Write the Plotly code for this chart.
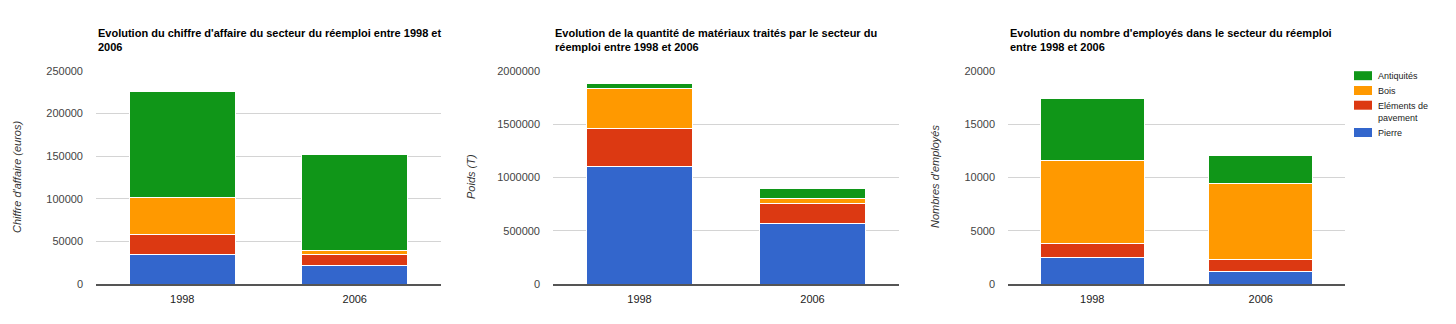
import plotly.graph_objects as go

W, H = 1456, 324

years = ["1998", "2006"]
series = ["Pierre", "Eléments de pavement", "Bois", "Antiquités"]
legend_labels = ["Pierre", "Eléments de<br>pavement", "Bois", "Antiquités"]
colors = ["#3366cc", "#dc3912", "#ff9900", "#109618"]

# Chart 1: chiffre d'affaire (euros)
ca_pierre = [35000, 21500]
ca_elements = [23000, 13400]
ca_bois = [44000, 5000]
ca_antiquites = [124000, 111600]

# Chart 2: poids (T)
poids_pierre = [1100000, 571000]
poids_elements = [357000, 186000]
poids_bois = [377000, 43000]
poids_antiquites = [50000, 98000]

# Chart 3: nombre d'employés
emp_pierre = [2450, 1190]
emp_elements = [1320, 1130]
emp_bois = [7820, 7130]
emp_antiquites = [5800, 2640]

titles = [
    "Evolution du chiffre d'affaire du secteur du réemploi entre 1998 et<br>2006",
    "Evolution de la quantité de matériaux traités par le secteur du<br>réemploi entre 1998 et 2006",
    "Evolution du nombre d'employés dans le secteur du réemploi<br>entre 1998 et 2006",
]
ytitles = ["Chiffre d'affaire (euros)", "Poids (T)", "Nombres d'employés"]
yranges = [[0, 250000], [0, 2000000], [0, 20000]]
dticks = [50000, 500000, 5000]

charts = [
    [ca_pierre, ca_elements, ca_bois, ca_antiquites],
    [poids_pierre, poids_elements, poids_bois, poids_antiquites],
    [emp_pierre, emp_elements, emp_bois, emp_antiquites],
]

# layout geometry (pixels)
plot_x = [(96, 441), (553, 899), (1008, 1345)]
plot_top, plot_bottom = 71, 284
title_x = [96, 553, 1008]
ytitle_x = [17, 471, 935]

fig = go.Figure()
for c, data in enumerate(charts):
    sfx = "" if c == 0 else str(c + 1)
    for s, vals in enumerate(data):
        fig.add_trace(go.Bar(
            x=years, y=vals, name=series[s],
            marker=dict(color=colors[s], line=dict(color="white", width=1)),
            xaxis="x" + sfx, yaxis="y" + sfx,
            showlegend=False, hoverinfo="skip",
        ))

layout = dict(
    template="none",
    width=W, height=H, margin=dict(l=0, r=0, t=0, b=0, autoexpand=False),
    paper_bgcolor="white", plot_bgcolor="white",
    barmode="stack", bargap=0.385,
    font=dict(family="Liberation Sans, Arial, sans-serif", size=11, color="#444"),
    showlegend=False,
    annotations=[], shapes=[],
)
for c in range(3):
    sfx = "" if c == 0 else str(c + 1)
    x0, x1 = plot_x[c]
    layout["xaxis" + sfx] = dict(
        domain=[x0 / W, x1 / W], anchor="y" + sfx,
        showline=True, linecolor="#555", linewidth=1.5, showgrid=False,
        zeroline=False, ticks="", ticklabelstandoff=4,
        tickfont=dict(size=11, color="#222"), fixedrange=True,
    )
    layout["yaxis" + sfx] = dict(
        domain=[1 - plot_bottom / H, 1 - plot_top / H], anchor="x" + sfx,
        range=yranges[c], dtick=dticks[c], tickformat="d",
        showgrid=True, gridcolor="#d4d4d4", gridwidth=1, zeroline=False,
        showline=False, ticks="", ticklabelstandoff=12,
        tickfont=dict(size=11, color="#444"), fixedrange=True,
    )
    layout["annotations"].append(dict(
        text="<b>" + titles[c] + "</b>", xref="paper", yref="paper",
        x=title_x[c] / W, y=1 - 25 / H, xanchor="left", yanchor="top",
        align="left", showarrow=False,
        font=dict(size=11, color="#000"),
    ))
    layout["annotations"].append(dict(
        text="<i>" + ytitles[c] + "</i>", xref="paper", yref="paper",
        x=ytitle_x[c] / W, y=1 - 177 / H, xanchor="center", yanchor="middle",
        textangle=-90, showarrow=False,
        font=dict(size=11, color="#333"),
    ))

# manual legend (top to bottom: Antiquités, Bois, Eléments, Pierre)
legend_rect_y = {3: 75.7, 2: 90.5, 1: 105.2, 0: 132.5}
legend_text_y = {3: 76, 2: 91, 1: 112, 0: 133}
for s in [3, 2, 1, 0]:
    cy = legend_rect_y[s]
    layout["shapes"].append(dict(
        type="rect", xref="paper", yref="paper",
        x0=1354 / W, x1=1372 / W, y0=1 - (cy + 4.5) / H, y1=1 - (cy - 4.5) / H,
        fillcolor=colors[s], line=dict(width=0),
    ))
    layout["annotations"].append(dict(
        text=legend_labels[s], xref="paper", yref="paper",
        x=1376 / W, y=1 - legend_text_y[s] / H, xanchor="left", yanchor="middle",
        align="left", showarrow=False,
        font=dict(size=9, color="#222"),
    ))

fig.update_layout(**layout)
fig.write_html("out.html")
